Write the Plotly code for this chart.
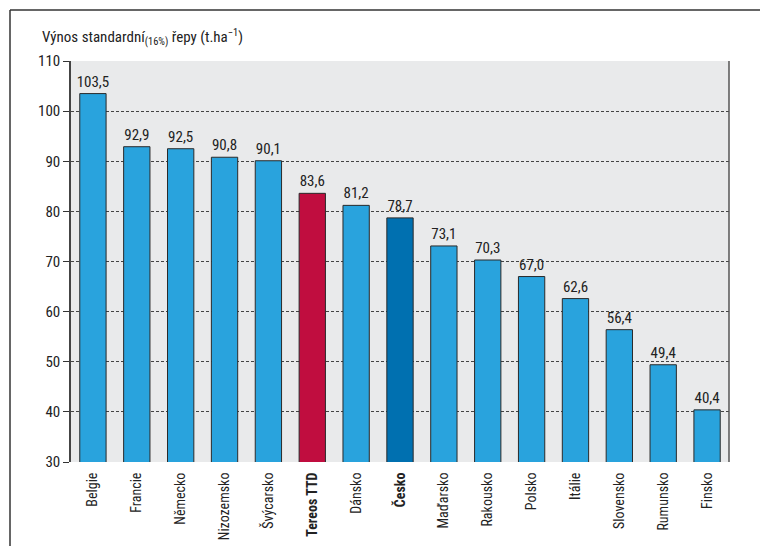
import plotly.graph_objects as go

categories = ["Belgie", "Francie", "Německo", "Nizozemsko", "Švýcarsko", "Tereos TTD",
              "Dánsko", "Česko", "Maďarsko", "Rakousko", "Polsko", "Itálie",
              "Slovensko", "Rumunsko", "Finsko"]
values = [103.5, 92.9, 92.5, 90.8, 90.1, 83.6, 81.2, 78.7, 73.1, 70.3, 67.0, 62.6, 56.4, 49.4, 40.4]
bold = ["Tereos TTD", "Česko"]
y_ticks = [30, 40, 50, 60, 70, 80, 90, 100, 110]

FONT = "Liberation Sans Narrow, Roboto Condensed, Arial Narrow, Liberation Sans, sans-serif"

colors = []
for c in categories:
    if c == "Tereos TTD":
        colors.append("#c00d3f")
    elif c == "Česko":
        colors.append("#0070b0")
    else:
        colors.append("#29a3dd")

ticktext = [f"<b>{c}</b>" if c in bold else c for c in categories]
labels = [f"{v:.1f}".replace(".", ",") for v in values]

fig = go.Figure(go.Bar(
    x=categories, y=values, marker=dict(color=colors, line=dict(color="#2a2a2a", width=1)),
    text=labels, textposition="outside", cliponaxis=False, constraintext="none",
    textfont=dict(family=FONT, size=15, color="#222"),
    width=0.6,
))

L, R, T, B = 71, 729, 61, 462
W = R - L
H = B - T

fig.update_layout(
    width=760, height=546,
    margin=dict(l=L, r=760 - R, t=T, b=546 - B, autoexpand=False),
    paper_bgcolor="white", plot_bgcolor="#e9eaeb",
    showlegend=False,
    font=dict(family=FONT, size=14, color="#222"),
    xaxis=dict(tickmode="array", tickvals=categories, ticktext=ticktext, tickangle=-90,
               showgrid=False, ticks="outside", ticklen=4, tickcolor="rgba(0,0,0,0)",
               tickfont=dict(size=14), automargin=False),
    yaxis=dict(range=[30, 110], tickvals=y_ticks, ticks="outside", ticklen=6, tickcolor="#333",
               showgrid=True, gridcolor="#444", griddash="3px,2px", gridwidth=1,
               showline=True, linecolor="#444", linewidth=1.5, mirror=False,
               tickfont=dict(size=15), zeroline=False, automargin=False),
    annotations=[dict(text="Výnos standardní<sub>(16%)</sub> řepy (t.ha<sup>−1</sup>)",
                      xref="paper", yref="paper", x=(40 - L) / W, y=(B - 50) / H,
                      xanchor="left", yanchor="bottom", showarrow=False,
                      font=dict(family=FONT, size=15, color="#222"))],
    shapes=[
        dict(type="line", xref="paper", yref="paper", x0=(10 - L) / W, x1=(760 - L) / W,
             y0=(B - 10) / H, y1=(B - 10) / H, line=dict(color="#333", width=1.5)),
        dict(type="line", xref="paper", yref="paper", x0=(10 - L) / W, x1=(10 - L) / W,
             y0=(B - 10) / H, y1=(B - 546) / H, line=dict(color="#333", width=1.5)),
        dict(type="line", xref="paper", yref="paper", x0=1, x1=1, y0=0, y1=1,
             line=dict(color="#555", width=1.5)),
    ],
)

fig.write_html("out.html", config={"displayModeBar": False})
with open("out.html", encoding="utf-8") as f:
    html = f.read()
html = html.replace("<head>", "<head><style>html,body{margin:0;padding:0;overflow:hidden}</style>", 1)
with open("out.html", "w", encoding="utf-8") as f:
    f.write(html)
